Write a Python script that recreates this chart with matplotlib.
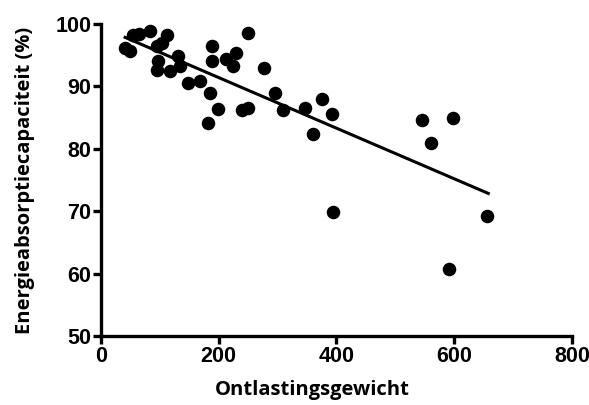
import numpy as np
import matplotlib
matplotlib.use("Agg")
import matplotlib.pyplot as plt

# Ontlastingsgewicht vs energieabsorptiecapaciteit
gewicht = [41, 50, 55, 65, 83, 112, 103, 95, 131, 97, 95, 117, 134, 148, 168,
           189, 188, 213, 230, 225, 250, 277, 296, 185, 198, 181, 239, 250,
           309, 346, 375, 392, 360, 394, 546, 598, 561, 656, 591]
capaciteit = [96.1, 95.7, 98.2, 98.4, 98.8, 98.2, 96.9, 96.4, 94.8, 94.0, 92.6,
              92.4, 93.2, 90.5, 90.8, 96.4, 94.0, 94.3, 95.3, 93.2, 98.5, 92.9,
              89.0, 89.0, 86.3, 84.1, 86.2, 86.6, 86.2, 86.5, 88.0, 85.6, 82.4,
              69.9, 84.6, 85.0, 81.0, 69.3, 60.7]

# regression line as drawn in the reference
fit_slope = -0.0405
fit_intercept = 99.5
fit_range = [41, 658]

x_ticks = [0, 200, 400, 600, 800]
y_ticks = [50, 60, 70, 80, 90, 100]

fig = plt.figure(figsize=(5.89, 4.05), dpi=100)
ax = fig.add_axes([0.1715, 0.170, 0.7995, 0.771])

ax.scatter(gewicht, capaciteit, s=95, color="black", zorder=3, linewidths=0)
fx = np.array(fit_range)
ax.plot(fx, fit_slope * fx + fit_intercept, color="black", linewidth=2.2, zorder=2)

ax.set_xlim(0, 800)
ax.set_ylim(50, 100)
ax.set_xticks(x_ticks)
ax.set_yticks(y_ticks)

for side in ["top", "right"]:
    ax.spines[side].set_visible(False)
for side in ["left", "bottom"]:
    ax.spines[side].set_linewidth(2.4)
ax.tick_params(width=2.4, length=6, direction="out", labelsize=15.5, pad=1)
for lbl in ax.get_xticklabels() + ax.get_yticklabels():
    lbl.set_fontweight("bold")
    lbl.set_family(["Liberation Sans", "DejaVu Sans"])

label_font = ["Open Sans", "DejaVu Sans"]
ax.set_xlabel("Ontlastingsgewicht", fontsize=14.5, fontweight="bold",
              family=label_font)
ax.set_ylabel("Energieabsorptiecapaciteit (%)", fontsize=14.5, fontweight="bold",
              family=label_font)
ax.xaxis.set_label_coords(0.448, -0.14)
ax.yaxis.set_label_coords(-0.14, 0.5)

plt.savefig("out.png", dpi=100)
plt.close(fig)
